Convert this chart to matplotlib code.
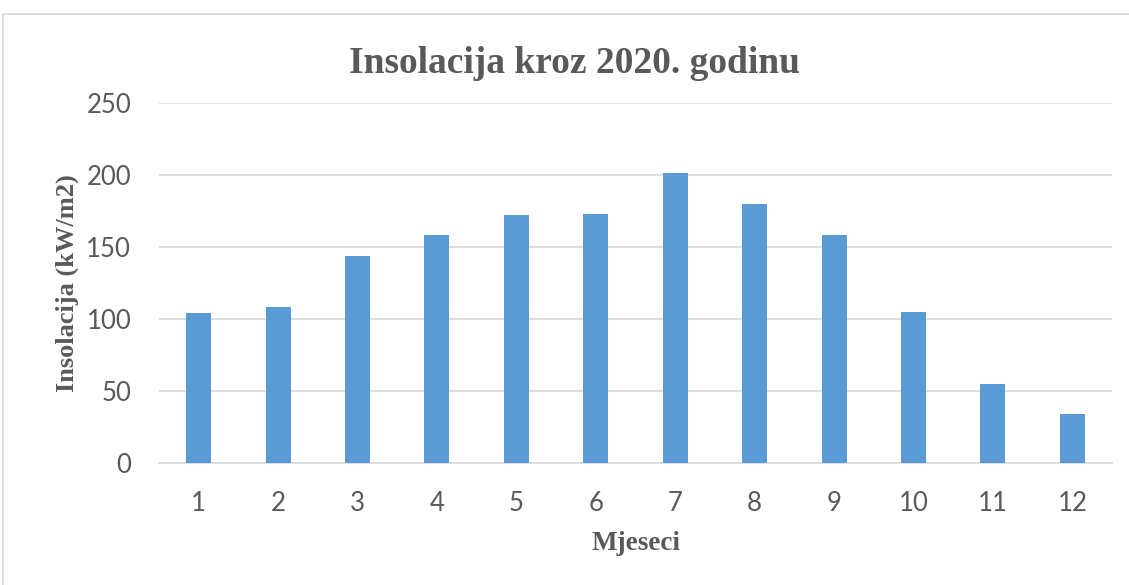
import matplotlib
matplotlib.use('Agg')
import matplotlib.pyplot as plt
from matplotlib.patches import Rectangle

# monthly insolation, 2020
months = [1, 2, 3, 4, 5, 6, 7, 8, 9, 10, 11, 12]
insolation = [104.4, 108.1, 144.0, 158.1, 172.2, 172.7, 201.6, 180.1, 158.1, 104.9, 54.9, 34.0]
y_ticks = [0, 50, 100, 150, 200, 250]

grey = '#595959'
bar_color = '#5b9bd5'

fig = plt.figure(figsize=(11.29, 5.85), dpi=100)
ax = fig.add_axes([0.1408, 0.2085, 0.8442, 0.6155])

ax.bar(months, insolation, width=0.315, color=bar_color, zorder=3)
ax.set_xlim(0.5, 12.5)
ax.set_ylim(0, 250)
ax.set_yticks(y_ticks)
ax.set_xticks(months)
ax.set_xticklabels([str(m) for m in months])

ax.grid(axis='y', color='#d9d9d9', linewidth=1.2, zorder=0)
for side in ['top', 'right', 'left']:
    ax.spines[side].set_visible(False)
ax.spines['bottom'].set_color('#d9d9d9')
ax.spines['bottom'].set_linewidth(1.2)
ax.tick_params(length=0, labelsize=18.5, labelcolor=grey)
ax.tick_params(axis='y', pad=20)
ax.tick_params(axis='x', pad=20)
for lbl in ax.get_xticklabels() + ax.get_yticklabels():
    lbl.set_family('Lato')

serif = {'family': 'Liberation Serif', 'weight': 'bold', 'color': grey}
fig.text(0.509, 0.892, 'Insolacija kroz 2020. godinu', ha='center', va='center', fontsize=27, **serif)
ax.set_xlabel('Mjeseci', fontsize=19.5, labelpad=11, **serif)
ax.set_ylabel('Insolacija (kW/m2)', fontsize=19, labelpad=5.5, **serif)

# light frame around the chart
fig.patches.append(Rectangle((3 / 1129, -0.1), 1.2, (585 - 14) / 585 + 0.1,
                             transform=fig.transFigure, fill=False,
                             edgecolor='#d9d9d9', linewidth=1.2))

fig.savefig('out.png', dpi=100)
